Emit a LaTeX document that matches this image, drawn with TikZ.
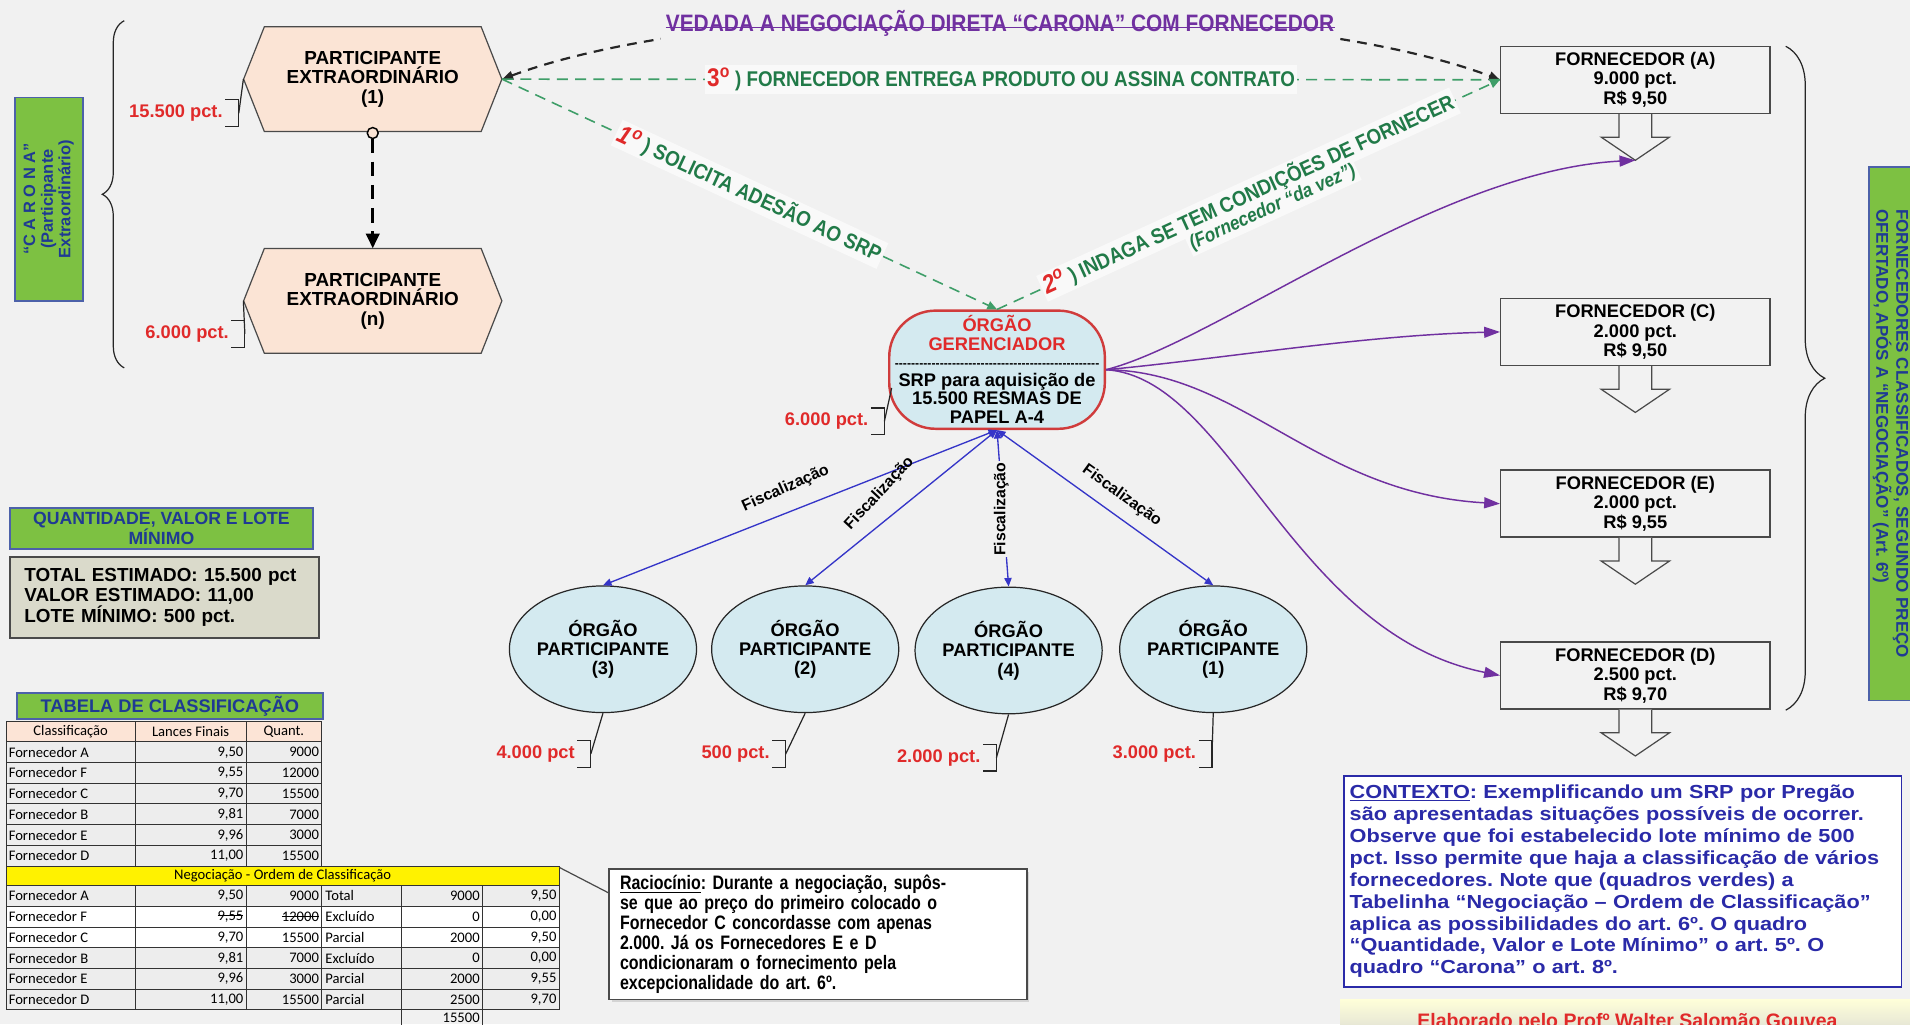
\documentclass[tikz,border=0pt]{standalone}
\usepackage{fontspec}
\setmainfont{Liberation Sans}
\newfontfamily\narrowfont[FakeStretch=0.88]{Liberation Sans}
\newfontfamily\condfont[FakeStretch=0.82]{Liberation Sans}
\newfontfamily\widefont[FakeStretch=1.15]{Liberation Sans}
\newfontfamily\tabfont{Carlito}
\usetikzlibrary{arrows.meta,decorations.pathreplacing,calc,shapes.geometric,shadows}
\frenchspacing
\definecolor{bg}{HTML}{F1F1F1}
\definecolor{peach}{HTML}{FBE4D5}
\definecolor{lblue}{HTML}{D4EAF0}
\definecolor{grn}{HTML}{7DC142}
\definecolor{navy}{HTML}{1F3A93}
\definecolor{gtext}{HTML}{217A48}
\definecolor{gline}{HTML}{3E9E68}
\definecolor{redt}{HTML}{E02A2A}
\definecolor{redline}{HTML}{D03C3C}
\definecolor{purp}{HTML}{7030A0}
\definecolor{fblue}{HTML}{3535C8}
\definecolor{ctxblue}{HTML}{2A2AA8}
\definecolor{boxgray}{HTML}{F2F2F2}
\definecolor{khaki}{HTML}{DADACB}
\definecolor{edge}{HTML}{4A4A4A}
\definecolor{tabhead}{HTML}{FCE4D6}
\definecolor{tabrow}{HTML}{EDEDED}
\newcommand\strk[1]{\setbox0\hbox{#1}\rlap{\rule[0.3em]{\wd0}{0.7pt}}\box0}
\newcommand\pctlink[2]{%
  \draw[brk] ($(#1.east)+(2,-11)$) -- ($(#1.east)+(13,-11)$) -- ($(#1.east)+(13,11)$) -- ($(#1.east)+(2,11)$);
  \draw[brk] ($(#1.east)+(13,0)$) -- (#2);}
\newcommand\hexpath[1]{%
  \draw[hexdraw] ($(#1)+(-106,0)$) -- ($(#1)+(-89,-43)$) -- ($(#1)+(89,-43)$) -- ($(#1)+(106,0)$) -- ($(#1)+(89,43)$) -- ($(#1)+(-89,43)$) -- cycle;}
\begin{document}
\begin{tikzpicture}[x=1pt,y=-1pt,
  every node/.style={font=\bfseries},
  hexdraw/.style={draw=edge, line width=1, fill=peach},
  hextext/.style={minimum width=212, minimum height=86, inner sep=0, align=center, font=\bfseries\fontsize{15.5}{16}\selectfont},
  forn/.style={draw=edge, line width=1.2, fill=boxgray, minimum width=221, minimum height=55, inner sep=0, align=center, font=\bfseries\fontsize{15}{16}\selectfont},
  blockarrow/.style={draw=edge, line width=1, fill=boxgray},
  part/.style={ellipse, draw=black!85, line width=1, fill=lblue, minimum width=134, minimum height=104, inner sep=0, align=center, font=\bfseries\fontsize{15}{16}\selectfont},
  ger/.style={rectangle, rounded corners=38, draw=redline, line width=2, fill=lblue, minimum width=177, minimum height=97, inner sep=0, align=center, font=\bfseries\fontsize{15}{15.5}\selectfont},
  pct/.style={text=redt, inner sep=0, anchor=east, font=\bfseries\fontsize{15}{16}\selectfont},
  brk/.style={draw=black!85, line width=1},
  greenbox/.style={draw=navy!80, line width=1.5, fill=grn, text=navy, align=center, inner sep=0},
  gdash/.style={draw=gline, dash pattern=on 9pt off 6pt, line width=1.3},
  gtip/.style={-{Triangle[length=8pt,width=7pt]}},
  glabel/.style={fill=white!60!bg, inner sep=2, text=gtext, font=\narrowfont\bfseries\fontsize{17.5}{18}\selectfont},
  blkdash/.style={draw=black!85, dash pattern=on 8pt off 6pt, line width=1.8},
  purpline/.style={draw=purp, line width=1.2, -{Triangle[length=13pt,width=9pt]}},
  fisc/.style={draw=fblue, line width=1.1, {Triangle[length=7pt,width=6pt]}-{Triangle[length=7pt,width=6pt]}},
  flabel/.style={inner sep=1, font=\bfseries\fontsize{13}{14}\selectfont},
  tabtxt/.style={inner sep=0, font=\tabfont\fontsize{12}{12}\selectfont},
  tabline/.style={draw=black!80, line width=0.8},
]
% background
\fill[bg] (0,0) rectangle (1568,841);
\useasboundingbox (0,0) rectangle (1568,841);

% CARONA box and brace
\node[greenbox, rotate=90, minimum width=167, minimum height=56, font=\bfseries\fontsize{13.5}{14.5}\selectfont] (car) at (40,163.5) {“C A R O N A”\\(Participante\\Extraordinário)};
\draw[brk, decorate, decoration={brace, amplitude=18}] (102,302) -- (102,17);

% hexagons
\coordinate (h1c) at (306,65);
\coordinate (hnc) at (306,247);
\hexpath{h1c}
\hexpath{hnc}
\node[hextext] (h1) at (h1c) {PARTICIPANTE\\EXTRAORDINÁRIO\\(1)};
\node[hextext] (hn) at (hnc) {PARTICIPANTE\\EXTRAORDINÁRIO\\(n)};

% fornecedores
\node[forn] (fa) at (1342.5,65.5) {FORNECEDOR (A)\\9.000 pct.\\R\$ 9,50};
\node[forn] (fc) at (1342.5,272.5) {FORNECEDOR (C)\\2.000 pct.\\R\$ 9,50};
\node[forn] (fe) at (1342.5,413.5) {FORNECEDOR (E)\\2.000 pct.\\R\$ 9,55};
\node[forn] (fd) at (1342.5,554.5) {FORNECEDOR (D)\\2.500 pct.\\R\$ 9,70};
\foreach \f in {fa,fc,fe,fd}{
  \draw[blockarrow] ($(\f.south)+(-13.5,0)$) -- ($(\f.south)+(-13.5,19)$) -- ($(\f.south)+(-28,19)$) -- ($(\f.south)+(0,38)$) -- ($(\f.south)+(28,19)$) -- ($(\f.south)+(13.5,19)$) -- ($(\f.south)+(13.5,0)$);
  \coordinate (\f-tip) at ($(\f.south)+(0,38)$);
}
\draw[brk, decorate, decoration={brace, amplitude=32}] (1466,38) -- (1466,583);
\node[greenbox, rotate=-90, minimum width=438, minimum height=36, font=\bfseries\fontsize{14}{13.5}\selectfont, align=left] (rg) at (1552,356) {FORNECEDORES CLASSIFICADOS, SEGUNDO PREÇO\\OFERTADO, APÓS A “NEGOCIAÇÃO” (Art. 6º)};

% orgao gerenciador
\node[ger] (og) at (818.5,303.5) {\textcolor{redt}{ÓRGÃO}\\\textcolor{redt}{GERENCIADOR}\\[-2pt]{\fontsize{10}{10}\selectfont\makebox[168pt]{\xleaders\hbox{-}\hfill}}\\SRP para aquisição de\\15.500 RESMAS DE\\PAPEL A-4};

% orgaos participantes
\node[part] (p3) at (495,533) {ÓRGÃO\\PARTICIPANTE\\(3)};
\node[part] (p2) at (661,533) {ÓRGÃO\\PARTICIPANTE\\(2)};
\node[part] (p4) at (828,534) {ÓRGÃO\\PARTICIPANTE\\(4)};
\node[part] (p1) at (996,533) {ÓRGÃO\\PARTICIPANTE\\(1)};

% pct labels
\node[pct] (q1) at (183,93) {15.500 pct.};
\pctlink{q1}{h1.west}
\node[pct] (qn) at (188,274) {6.000 pct.};
\pctlink{qn}{hn.west}
\node[pct] (qg) at (713,346) {6.000 pct.};
\pctlink{qg}{$(og.west)+(3,15)$}
\node[pct] (q3) at (472,619) {4.000 pct};
\pctlink{q3}{p3.south}
\node[pct] (q2) at (632,619) {500 pct.};
\pctlink{q2}{p2.south}
\node[pct] (q4) at (805,622) {2.000 pct.};
\pctlink{q4}{p4.south}
\node[pct] (q1p) at (982,619) {3.000 pct.};
\pctlink{q1p}{p1.south}

% dashed arrow between hexagons
\draw[fill=peach, line width=1.2] ($(h1.south)+(0,1)$) circle (4.5);
\draw[draw=black, line width=2.2, dash pattern=on 12pt off 7pt, -{Triangle[length=12pt,width=11pt]}] ($(h1.south)+(0,5.5)$) -- (hn.north);

% black dashed curve (vedada)
\draw[blkdash, {Triangle[length=9pt,width=7pt]}-{Triangle[length=9pt,width=7pt]}] (h1.east) .. controls (600,-5) and (1044,-5) .. (fa.west);
\node[fill=bg, inner xsep=4, inner ysep=8, text=purp, font=\narrowfont\bfseries\fontsize{19.5}{20}\selectfont] (tt) at (821,19) {VEDADA A NEGOCIAÇÃO DIRETA “CARONA” COM FORNECEDOR};
\draw[purp, line width=1.2] ($(tt.base west)+(4,-3)$) -- ($(tt.base east)+(-4,-3)$);

% green dashed steps
\draw[gdash] (h1.east) -- node[glabel, pos=0.5] (l3) {\textcolor{redt}{\fontsize{21}{21}\selectfont 3\textsuperscript{o}} ) FORNECEDOR ENTREGA PRODUTO OU ASSINA CONTRATO} (fa.west);
\draw[gdash, gtip] (h1.east) -- node[glabel, sloped, pos=0.5] (l1) {\textcolor{redt}{\fontsize{21}{21}\selectfont\itshape 1\textsuperscript{o}} ) SOLICITA ADESÃO AO SRP} (og.north);
\draw[gdash, gtip] (og.north) -- node[glabel, sloped, pos=0.5] (l2) {\textcolor{redt}{\fontsize{21}{21}\selectfont\itshape 2\textsuperscript{o}} ) INDAGA SE TEM CONDIÇÕES DE FORNECER} node[glabel, sloped, pos=0.53, below=8pt, font=\narrowfont\bfseries\itshape\fontsize{16}{17}\selectfont] (l2b) {(Fornecedor “da vez”)} (fa.west);

% purple curves
\draw[purpline] (og.east) .. controls (1000,280) and (1180,140) .. (fa-tip);
\draw[purpline] (og.east) .. controls (1000,295) and (1120,275) .. (fc.west);
\draw[purpline] (og.east) .. controls (1020,305) and (1080,405) .. (fe.west);
\draw[purpline] (og.east) .. controls (1010,310) and (1060,520) .. (fd.west);

% fiscalizacao
\draw[fisc] (og.south) -- (p3.north);
\draw[fisc] (og.south) -- (p2.north);
\draw[fisc] (og.south) -- (p4.north);
\draw[fisc] (og.south) -- (p1.north);
\node[flabel, rotate=24] (fl3) at (645,401) {Fiscalização};
\node[flabel, rotate=47] (fl2) at (722,405) {Fiscalização};
\node[flabel, rotate=90, fill=bg] (fl4) at (822,418) {Fiscalização};
\node[flabel, rotate=-36] (fl1) at (921,407) {Fiscalização};

% quantidade
\node[greenbox, minimum width=249, minimum height=34, font=\bfseries\fontsize{14.5}{15}\selectfont] (qh) at (132.5,434) {QUANTIDADE, VALOR E LOTE\\MÍNIMO};
\node[draw=edge, line width=1.5, fill=khaki, minimum width=254, minimum height=67, text width=230, align=left, inner sep=0, font=\bfseries\fontsize{15.5}{16}\selectfont] (qb) at (135,490.5) {TOTAL ESTIMADO: 15.500 pct\\VALOR ESTIMADO: 11,00\\LOTE MÍNIMO: 500 pct.};

% tabela
\node[greenbox, minimum width=251, minimum height=21, font=\bfseries\fontsize{15}{15}\selectfont] (th) at (139.5,579.5) {TABELA DE CLASSIFICAÇÃO};
\fill[tabhead] (5,592) rectangle (264,609);
\fill[tabrow] (5,609) rectangle (264,711);
\fill[yellow] (5,711) rectangle (459,727);
\fill[tabrow] (5,727) rectangle (459,829);
\fill[white] (5,744) rectangle (459,778);
\foreach \y in {592,609,...,711} \draw[tabline] (5,\y) -- (264,\y);
\foreach \x in {5,111,202,264} \draw[tabline] (\x,592) -- (\x,711);
\draw[tabline] (5,711) rectangle (459,727);
\foreach \y in {727,744,...,829} \draw[tabline] (5,\y) -- (459,\y);
\foreach \x in {5,111,202,264,330,396,459} \draw[tabline] (\x,727) -- (\x,829);
\draw[tabline] (330,829) rectangle (396,846);
\node[tabtxt] (hd1) at (58,600.5) {Classificação};
\node[tabtxt] (hd2) at (156.5,600.5) {Lances Finais};
\node[tabtxt] (hd3) at (233,600.5) {Quant.};
\foreach \n/\v/\q [count=\i from 0] in {A/{9,50}/9000, F/{9,55}/12000, C/{9,70}/15500, B/{9,81}/7000, E/{9,96}/3000, D/{11,00}/15500}{
  \node[tabtxt, anchor=west] (ta\i) at (7,617.5+17*\i) {Fornecedor \n};
  \node[tabtxt, anchor=east] (tb\i) at (200,617.5+17*\i) {\v};
  \node[tabtxt, anchor=east] (tc\i) at (262,617.5+17*\i) {\q};
}
\node[tabtxt] (neg) at (232,719) {Negociação - Ordem de Classificação};
\foreach \n/\v/\q/\s/\t/\u [count=\i from 0] in {A/{9,50}/9000/Total/9000/{9,50}, F/{\strk{9,55}}/{\strk{12000}}/Excluído/0/{0,00}, C/{9,70}/15500/Parcial/2000/{9,50}, B/{9,81}/7000/Excluído/0/{0,00}, E/{9,96}/3000/Parcial/2000/{9,55}, D/{11,00}/15500/Parcial/2500/{9,70}}{
  \node[tabtxt, anchor=west] (na\i) at (7,735.5+17*\i) {Fornecedor \n};
  \node[tabtxt, anchor=east] (nb\i) at (200,735.5+17*\i) {\v};
  \node[tabtxt, anchor=east] (nc\i) at (262,735.5+17*\i) {\q};
  \node[tabtxt, anchor=west] (nd\i) at (267,735.5+17*\i) {\s};
  \node[tabtxt, anchor=east] (ne\i) at (394,735.5+17*\i) {\t};
  \node[tabtxt, anchor=east] (nf\i) at (457,735.5+17*\i) {\u};
}
\node[tabtxt, anchor=east] (tot) at (394,835.5) {15500};

% raciocinio
\coordinate (yelend) at (459,712);
\node[draw=edge, line width=1.2, fill=white, drop shadow={opacity=0.25, shadow xshift=2pt, shadow yshift=-2pt}, minimum width=343, minimum height=107, text width=325, align=left, inner sep=0, font=\condfont\bfseries\fontsize{16}{16.3}\selectfont] (rac) at (671.5,767) {\underline{Raciocínio}: Durante a negociação, supôs-\\se que ao preço do primeiro colocado o\\Fornecedor C concordasse com apenas\\2.000. Já os Fornecedores E e D\\condicionaram o fornecimento pela\\excepcionalidade do art. 6º.};
\draw[edge, line width=1] (yelend) -- ($(rac.north west)+(0,20)$);

% contexto
\node[draw=ctxblue, line width=1.5, fill=white, minimum width=458, minimum height=173, text width=448, align=left, inner sep=0, text=ctxblue, font=\widefont\bfseries\fontsize{15.5}{18}\selectfont] (ctx) at (1332,723.5) {\underline{CONTEXTO}: Exemplificando um SRP por Pregão\\são apresentadas situações possíveis de ocorrer.\\Observe que foi estabelecido lote mínimo de 500\\pct. Isso permite que haja a classificação de vários\\fornecedores. Note que (quadros verdes) a\\Tabelinha “Negociação – Ordem de Classificação”\\aplica as possibilidades do art. 6º. O quadro\\“Quantidade, Valor e Lote Mínimo” o art. 5º. O\\quadro “Carona” o art. 8º.};

% elaborado
\node[minimum width=475, minimum height=40, inner sep=0, top color=yellow!15!white, bottom color=gray!35, anchor=north west] (elab) at (1100,820) {};
\node[text=redt, font=\bfseries\fontsize{16}{16}\selectfont, inner sep=0] (elabt) at (1336,839) {Elaborado pelo Profº Walter Salomão Gouvea};
\end{tikzpicture}
\end{document}
